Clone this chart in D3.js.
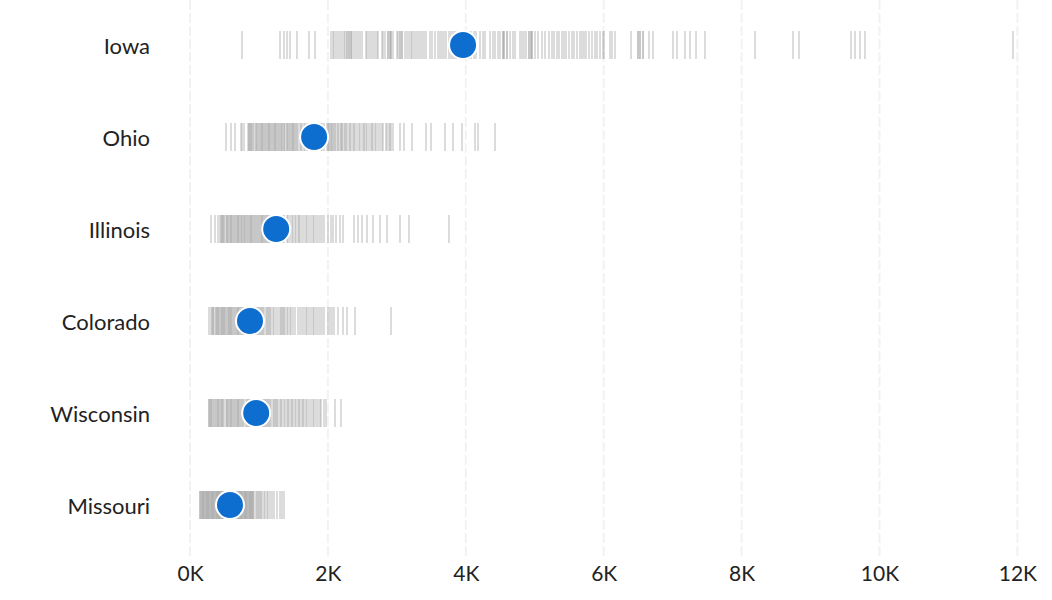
<!DOCTYPE html>
<html><head><meta charset="utf-8">
<script src="https://cdn.jsdelivr.net/npm/d3@7"></script>
<style>
html,body{margin:0;padding:0;background:#fff;}
svg{display:block;font-family:Lato, "Noto Sans", sans-serif;}
</style></head><body>
<svg id="chart" width="1052" height="600"></svg>
<script>
const states = ["Iowa","Ohio","Illinois","Colorado","Wisconsin","Missouri"];
const averages = [3960, 1800, 1250, 870, 960, 580];
const tickValues = [0, 2000, 4000, 6000, 8000, 10000, 12000];
const tickLabels = ["0K","2K","4K","6K","8K","10K","12K"];

const iowaValues = [760,1310,1360,1410,1450,1550,1720,1810,
 2050,2070,2090,2120,2150,2170,2200,2230,2250,2280,2280,2300,2300,2330,2330,2350,2380,2410,2440,2470,2500,2550,2570,2600,2620,2650,2680,2710,2730,2780,2800,2830,2870,2870,2900,2900,2920,2920,2950,3000,3020,3050,3050,3080,3080,3120,3150,3170,3200,3220,3250,3280,3300,3330,3360,3390,3420,3480,3510,3560,3590,3630,3660,3680,3720,3750,3780,3810,3840,3870,3920,3950,4000,4050,4080,4120,4150,4210,4250,4280,4350,4400,4420,4470,4500,4540,4540,4560,4560,4600,4600,4640,4680,4720,4790,4810,4840,4880,4910,4910,4940,4940,4960,4960,5000,5050,5100,5150,5200,5250,5280,5320,5350,5390,5420,5460,5500,5540,5570,5610,5650,5690,5720,5750,5790,5830,5870,5910,5950,5990,6000,6090,6120,6160,
 6400,6500,6500,6530,6530,6570,6570,6660,6720,7000,7060,7180,7250,7340,7470,8190,8750,8830,9590,9640,9710,9790,11940];
const ohioValues = [520,600,650,740,760,780,840,850,860,870,880,890,905,920,935,950,960,975,990,1000,1015,1030,1040,1050,1065,1080,1090,1100,1115,1130,1140,1150,1165,1180,1190,1200,1215,1230,1240,1250,1265,1280,1290,1300,1315,1330,1340,1360,1370,1385,1400,1410,1420,1435,1450,1460,1480,1490,1500,1515,1530,1540,1555,1570,1590,1610,1630,1650,1670,1690,1710,1730,1750,1770,1800,1820,1850,1870,1900,1920,1950,1980,2000,2010,2020,2040,2050,2060,2080,2090,2100,2120,2140,2150,2170,2190,2200,2210,2230,2250,2260,2280,2300,2320,2340,2360,2380,2400,2420,2450,2470,2500,2520,2530,2550,2570,2590,2620,2640,2660,2680,2700,2720,2750,2780,2800,2840,2860,2880,2900,2920,2950,3050,3100,3220,3430,3500,3700,3810,3940,4130,4180,4420];
const illinoisValues = [310,360,410,430,445,460,470,480,490,500,515,530,540,550,565,580,590,600,610,620,635,650,660,680,690,700,710,720,735,750,760,780,790,800,815,830,840,850,865,880,890,900,915,930,945,960,975,990,1000,1015,1030,1040,1050,1065,1080,1090,1100,1115,1130,1145,1160,1180,1200,1220,1250,1270,1300,1320,1350,1370,1400,1420,1450,1480,1500,1520,1540,1560,1580,1600,1630,1650,1680,1700,1730,1750,1780,1800,1830,1850,1880,1920,1950,2000,2050,2080,2120,2170,2220,2380,2440,2500,2560,2650,2760,2860,3050,3180,3760];
const coloradoValues = [270,310,320,330,340,355,370,380,390,400,410,420,435,450,460,470,480,490,500,510,520,535,550,560,570,580,590,600,615,630,640,650,665,680,690,700,715,730,745,760,770,780,790,800,815,830,845,860,870,880,900,915,930,945,960,975,990,1000,1015,1030,1045,1060,1080,1100,1115,1130,1145,1160,1180,1200,1220,1250,1270,1300,1315,1330,1345,1360,1380,1400,1420,1450,1470,1500,1520,1570,1600,1620,1650,1680,1700,1720,1750,1780,1800,1830,1860,1880,1920,1950,2000,2030,2060,2090,2150,2220,2270,2390,2910];
const wisconsinValues = [270,280,290,300,310,325,340,350,365,380,390,400,410,420,435,450,460,470,485,500,515,530,540,550,565,580,590,600,615,630,640,650,665,680,690,700,715,730,745,760,775,790,805,820,835,850,865,880,895,910,925,940,960,980,995,1010,1025,1040,1055,1070,1085,1100,1115,1130,1145,1160,1180,1200,1215,1230,1245,1260,1280,1300,1320,1340,1360,1380,1400,1420,1440,1460,1480,1500,1520,1540,1560,1580,1600,1620,1640,1660,1680,1700,1730,1750,1780,1800,1830,1850,1880,1900,1940,1970,2100,2190];
const missouriValues = [145,152,160,170,178,185,192,200,210,218,225,233,240,250,258,265,273,280,290,298,305,313,320,330,338,345,353,360,370,378,385,393,400,410,418,425,433,440,450,458,465,473,480,490,498,505,513,520,530,538,545,553,560,570,578,585,593,600,610,618,625,633,640,650,658,665,673,680,690,698,705,713,720,730,738,745,753,760,770,778,785,793,800,810,818,825,833,840,850,858,865,873,880,890,898,905,913,920,935,950,965,980,995,1010,1030,1050,1070,1090,1110,1130,1160,1190,1220,1260,1300,1340,1360];

const seriesValues = [iowaValues, ohioValues, illinoisValues, coloradoValues, wisconsinValues, missouriValues];
const rows = states.map((s,i)=>({state:s, values:seriesValues[i], avg:averages[i]}));

const svg = d3.select("#chart");
const x = d3.scaleLinear().domain([0,12000]).range([190,1017.4]);
const y = d3.scaleBand().domain(states).range([-1,551]).padding(0);
const stripH = 28;

// gridlines
svg.append("g").selectAll("line").data(tickValues).join("line")
  .attr("x1",d=>x(d)).attr("x2",d=>x(d))
  .attr("y1",0).attr("y2",558)
  .attr("stroke","#f2f2f2").attr("stroke-width",2)
  .attr("stroke-dasharray","10,3");

// strips
const rowG = svg.append("g").selectAll("g").data(rows).join("g")
  .attr("transform",d=>`translate(0,${y(d.state)+y.bandwidth()/2})`);
rowG.selectAll("line").data(d=>d.values).join("line")
  .attr("x1",v=>x(v)).attr("x2",v=>x(v))
  .attr("y1",-stripH/2).attr("y2",stripH/2)
  .attr("shape-rendering","crispEdges")
  .attr("stroke","#a8a8a8").attr("stroke-width",2).attr("stroke-opacity",0.4);
rowG.append("circle")
  .attr("cx",d=>x(d.avg)).attr("cy",0).attr("r",14)
  .attr("fill","#0e6ecf").attr("stroke","#fff").attr("stroke-width",2);

// y labels
svg.append("g").selectAll("text").data(states).join("text")
  .attr("x",150).attr("y",d=>y(d)+y.bandwidth()/2)
  .attr("text-anchor","end").attr("dominant-baseline","central")
  .attr("font-size",22).attr("fill","#222").text(d=>d);

// x axis
const xAxis = d3.axisBottom(x).tickValues(tickValues).tickFormat((d,i)=>tickLabels[i]).tickSize(0).tickPadding(0);
const ax = svg.append("g").attr("transform","translate(0,566)").call(xAxis);
ax.select(".domain").remove();
ax.selectAll("text").attr("font-size",21).attr("fill","#222").attr("font-family","Lato, 'Noto Sans', sans-serif");
</script>
</body></html>
